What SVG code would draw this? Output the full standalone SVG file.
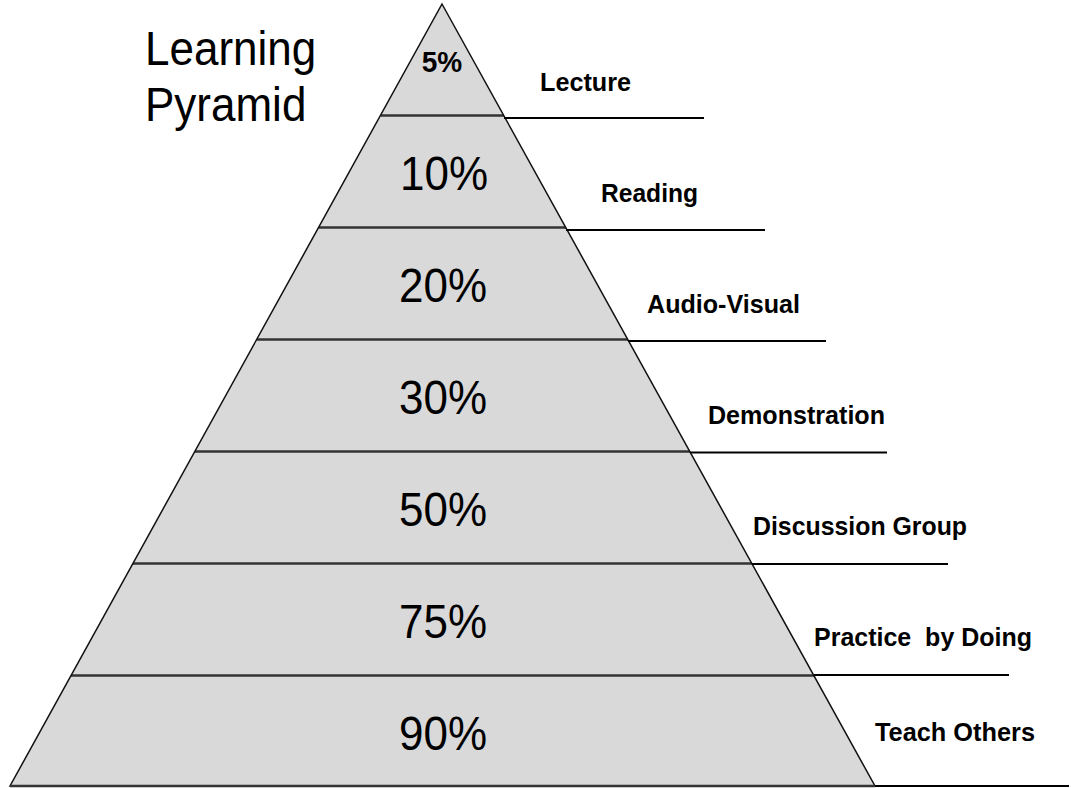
<svg xmlns="http://www.w3.org/2000/svg" width="1071" height="788" viewBox="0 0 1071 788">
<style>
.tier{fill:#d9d9d9;stroke:none}
.edge{fill:none;stroke:#111;stroke-width:1.5;stroke-linejoin:miter}
.div{stroke:#333;stroke-width:2.5}
.lead{stroke:#000;stroke-width:2}
.pct{font-family:"Liberation Sans",Arial,sans-serif;font-size:44px;fill:#000;text-anchor:middle}
.lbl{font-family:"Liberation Sans",Arial,sans-serif;font-size:25px;font-weight:bold;fill:#000}
.top{font-family:"Liberation Sans",Arial,sans-serif;font-size:28px;font-weight:bold;fill:#000;text-anchor:middle}
.title{font-family:"Liberation Sans",Arial,sans-serif;font-size:44px;fill:#000}
</style>
<rect width="1071" height="788" fill="#fff"/>
<g id="title">
<text class="title" transform="translate(145,65) scale(1,1.1)">Learning</text>
<text class="title" transform="translate(145,121) scale(1,1.1)">Pyramid</text>
</g>
<g id="pyramid">
<polygon class="tier" points="442,4 875,786 10,786"/>
</g>
<g id="tier-lecture">
<text class="top" transform="translate(442,72) scale(1,1.05)">5%</text>
</g>
<g id="tier-reading">
<line class="div" x1="381" y1="115.5" x2="504" y2="115.5"/>
<text class="pct" transform="translate(444,190) scale(1,1.1)">10%</text>
</g>
<g id="tier-audiovisual">
<line class="div" x1="319" y1="227.5" x2="566" y2="227.5"/>
<text class="pct" transform="translate(443,302) scale(1,1.1)">20%</text>
</g>
<g id="tier-demonstration">
<line class="div" x1="257" y1="339.5" x2="628" y2="339.5"/>
<text class="pct" transform="translate(443,414) scale(1,1.1)">30%</text>
</g>
<g id="tier-discussion">
<line class="div" x1="195" y1="451.5" x2="690" y2="451.5"/>
<text class="pct" transform="translate(443,526) scale(1,1.1)">50%</text>
</g>
<g id="tier-practice">
<line class="div" x1="133" y1="563.5" x2="752" y2="563.5"/>
<text class="pct" transform="translate(443,638) scale(1,1.1)">75%</text>
</g>
<g id="tier-teach">
<line class="div" x1="71" y1="675.5" x2="814" y2="675.5"/>
<text class="pct" transform="translate(443,750) scale(1,1.1)">90%</text>
</g>
<g id="outline">
<polygon class="edge" points="442,4 875,786 10,786"/>
<line class="div" x1="10" y1="786" x2="875" y2="786"/>
</g>
<g id="connectors">
<line class="lead" x1="504" y1="118" x2="704" y2="118"/>
<line class="lead" x1="566" y1="230" x2="765" y2="230"/>
<line class="lead" x1="628" y1="341" x2="826" y2="341"/>
<line class="lead" x1="690" y1="452.5" x2="887" y2="452.5"/>
<line class="lead" x1="752" y1="564" x2="948" y2="564"/>
<line class="lead" x1="814" y1="675" x2="1009" y2="675"/>
<line class="lead" x1="875" y1="786" x2="1069" y2="786"/>
</g>
<g id="labels">
<text class="lbl" x="540" y="91" textLength="91" lengthAdjust="spacingAndGlyphs">Lecture</text>
<text class="lbl" x="601" y="202" textLength="97" lengthAdjust="spacingAndGlyphs">Reading</text>
<text class="lbl" x="647" y="313" textLength="153" lengthAdjust="spacingAndGlyphs">Audio-Visual</text>
<text class="lbl" x="708" y="424" textLength="177" lengthAdjust="spacingAndGlyphs">Demonstration</text>
<text class="lbl" x="753" y="535" textLength="214" lengthAdjust="spacingAndGlyphs">Discussion Group</text>
<text class="lbl" x="814" y="646" textLength="218" lengthAdjust="spacingAndGlyphs" xml:space="preserve">Practice  by Doing</text>
<text class="lbl" x="875" y="741" textLength="160" lengthAdjust="spacingAndGlyphs">Teach Others</text>
</g>
</svg>
